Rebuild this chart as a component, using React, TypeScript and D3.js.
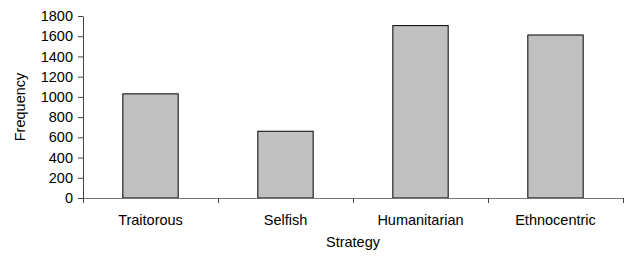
import React, { useRef, useEffect } from 'react';
import * as d3 from 'd3';

// Chart data
const strategies = ['Traitorous', 'Selfish', 'Humanitarian', 'Ethnocentric'];
const frequencies = [1030, 660, 1705, 1612];
const yTicks = [0, 200, 400, 600, 800, 1000, 1200, 1400, 1600, 1800];

const W = 628;
const H = 257;
const margin = { top: 16, right: 5, bottom: 59, left: 83 };
const font = 'Liberation Sans, Arial, sans-serif';

const App = () => {
  const ref = useRef<SVGSVGElement>(null);

  useEffect(() => {
    const svg = d3.select(ref.current);
    svg.selectAll('*').remove();

    const width = W - margin.left - margin.right;
    const height = H - margin.top - margin.bottom;

    const x = d3.scaleBand().domain(strategies).range([0, width]).paddingInner(0).paddingOuter(0);
    const y = d3.scaleLinear().domain([0, 1800]).range([height, 0]);

    const g = svg.append('g').attr('transform', `translate(${margin.left},${margin.top})`);

    // bars
    const barW = x.bandwidth() * 0.41;
    g.selectAll('rect.bar')
      .data(strategies)
      .enter()
      .append('rect')
      .attr('class', 'bar')
      .attr('x', (d) => (x(d) as number) + (x.bandwidth() - barW) / 2)
      .attr('y', (d, i) => y(frequencies[i]))
      .attr('width', barW)
      .attr('height', (d, i) => height - y(frequencies[i]))
      .attr('fill', '#c0c0c0')
      .attr('stroke', '#000')
      .attr('stroke-width', 1);

    // y axis
    const yAxis = g
      .append('g')
      .call(d3.axisLeft(y).tickValues(yTicks).tickFormat(d3.format('d')).tickSize(5).tickSizeOuter(0));
    yAxis.select('.domain').attr('stroke', '#444');
    yAxis.selectAll('.tick line').attr('stroke', '#444');
    yAxis
      .selectAll('text')
      .attr('x', -10)
      .style('font-family', font)
      .style('font-size', '14.5px')
      .attr('fill', '#000');

    // x axis
    const xAxis = g
      .append('g')
      .attr('transform', `translate(0,${height})`)
      .call(d3.axisBottom(x).tickSize(0).tickSizeOuter(0));
    xAxis.select('.domain').attr('stroke', '#777');
    xAxis
      .selectAll('text')
      .attr('y', 17)
      .style('font-family', font)
      .style('font-size', '14.5px')
      .attr('fill', '#000');

    // band boundary ticks
    g.append('g')
      .selectAll('line')
      .data(strategies.concat(['end']))
      .enter()
      .append('line')
      .attr('x1', (d, i) => (i < strategies.length ? (x(d) as number) : width) + 0.5)
      .attr('x2', (d, i) => (i < strategies.length ? (x(d) as number) : width) + 0.5)
      .attr('y1', height)
      .attr('y2', height + 5)
      .attr('stroke', '#444');

    // axis titles
    svg
      .append('text')
      .attr('x', margin.left + width / 2)
      .attr('y', 247)
      .attr('text-anchor', 'middle')
      .style('font-family', font)
      .style('font-size', '14.5px')
      .text('Strategy');

    svg
      .append('text')
      .attr('transform', `translate(25,${margin.top + height / 2}) rotate(-90)`)
      .attr('text-anchor', 'middle')
      .style('font-family', font)
      .style('font-size', '14.5px')
      .text('Frequency');
  }, []);

  return (
    <svg
      ref={ref}
      width={W}
      height={H}
      style={{ position: 'absolute', left: 0, top: 0, background: '#fff' }}
    />
  );
};

export default App;
